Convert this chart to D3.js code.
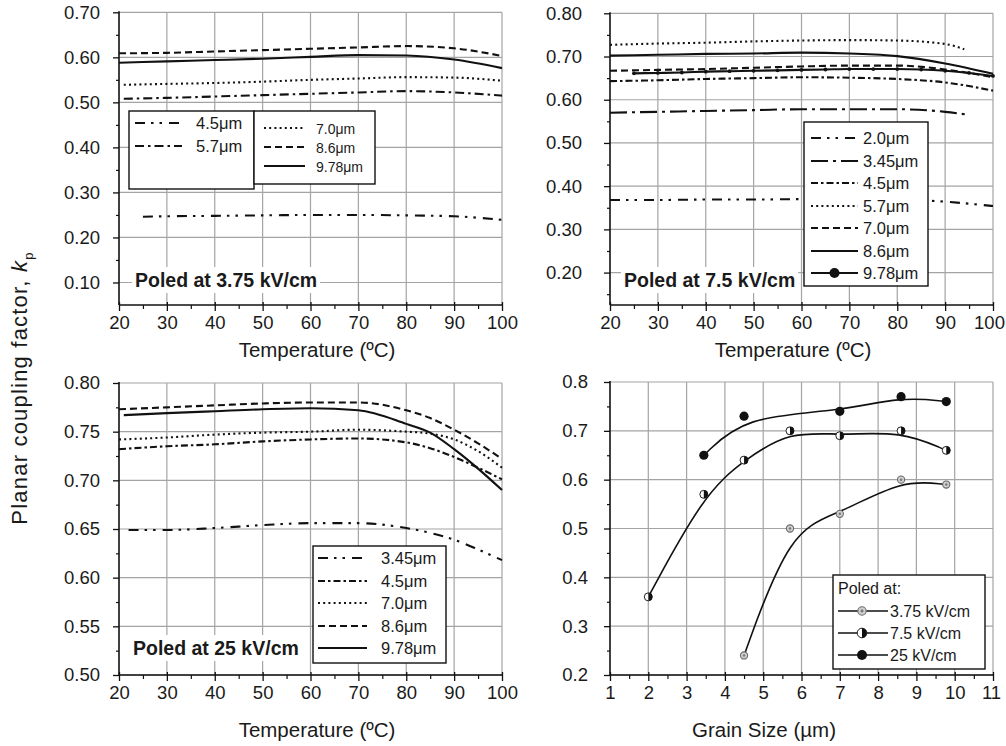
<!DOCTYPE html>
<html><head><meta charset="utf-8">
<script src="https://cdn.jsdelivr.net/npm/d3@7"></script>
<style>body{margin:0;background:#fff} svg text{font-family:"Liberation Sans",Arial,Helvetica,sans-serif;fill:#1a1a1a}</style>
</head><body><svg id="c" width="1006" height="746"></svg>
<script>
// ---------------- DATA ----------------
const tempTicks = [20,30,40,50,60,70,80,90,100];
// Panel A: poled at 3.75 kV/cm
const tA = [20,30,40,50,60,70,80,90,100];
const tA_from21 = [21,30,40,50,60,70,80,90,100];
const tA_from25 = [25,30,40,50,60,70,80,90,100];
const kA_45  = [0.246,0.247,0.248,0.249,0.250,0.250,0.249,0.247,0.239];
const kA_57  = [0.508,0.510,0.513,0.516,0.519,0.522,0.525,0.522,0.515];
const kA_70  = [0.539,0.541,0.543,0.546,0.550,0.553,0.556,0.555,0.548];
const kA_86  = [0.609,0.610,0.613,0.616,0.619,0.622,0.625,0.620,0.603];
const kA_978 = [0.588,0.591,0.594,0.597,0.601,0.605,0.604,0.595,0.576];
// Panel B: poled at 7.5 kV/cm
const tB = [20,30,40,50,60,70,80,90,100];
const tB_to95 = [20,30,40,50,60,70,80,90,95];
const tB_to94 = [20,30,40,50,60,70,80,90,94];
const tB_5 = [25,30,35,40,45,50,55,60,65,70,75,80,85,90,95,100];
const kB_20  = [0.368,0.368,0.369,0.369,0.370,0.370,0.369,0.364,0.354];
const kB_345 = [0.570,0.572,0.574,0.576,0.578,0.578,0.578,0.572,0.565];
const kB_45  = [0.643,0.645,0.648,0.650,0.652,0.651,0.648,0.640,0.621];
const kB_57  = [0.727,0.730,0.732,0.735,0.737,0.738,0.737,0.729,0.717];
const kB_70  = [0.667,0.669,0.671,0.674,0.677,0.679,0.679,0.670,0.652];
const kB_86  = [0.702,0.704,0.706,0.707,0.709,0.707,0.701,0.684,0.660];
const kB_978 = [0.661,0.662,0.663,0.665,0.666,0.667,0.668,0.669,0.670,0.671,0.671,0.671,0.670,0.667,0.662,0.655];
// Panel C: poled at 25 kV/cm
const tC = [20,30,40,50,60,70,80,85,90,95,100];
const tC_from21 = [21,30,40,50,60,70,80,85,90,95,100];
const tC_from22 = [22,30,40,50,60,70,80,85,90,95,100];
const kC_345 = [0.649,0.649,0.651,0.654,0.656,0.656,0.651,0.646,0.639,0.629,0.618];
const kC_45  = [0.732,0.735,0.737,0.740,0.742,0.743,0.739,0.733,0.724,0.713,0.701];
const kC_70  = [0.742,0.744,0.747,0.749,0.750,0.752,0.750,0.748,0.742,0.730,0.713];
const kC_86  = [0.773,0.775,0.777,0.779,0.780,0.780,0.772,0.764,0.752,0.738,0.722];
const kC_978 = [0.767,0.769,0.771,0.773,0.774,0.772,0.758,0.749,0.732,0.712,0.690];
// Panel D: kp vs grain size
const grainTicks = [1,2,3,4,5,6,7,8,9,10,11];
const g375 = [4.5,5.7,7.0,8.6,9.78];
const k375 = [0.24,0.50,0.53,0.60,0.59];
const g75  = [2.0,3.45,4.5,5.7,7.0,8.6,9.78];
const k75  = [0.36,0.57,0.64,0.70,0.69,0.70,0.66];
const g25  = [3.45,4.5,7.0,8.6,9.78];
const k25  = [0.65,0.73,0.74,0.77,0.76];

// ---------------- STYLES ----------------
const DASH = {
  solid: null,
  dot: "2,3.2",
  dash: "7,4",
  dashdot: "9,4,2.5,4",
  shortdashdot: "7,3,2.5,3",
  longdashdot: "17,5,3,5",
  dashdotdot: "10,6,2.5,6,2.5,7"
};
const GRID = "#a4a4a4";
const svg = d3.select("#c");
svg.append("rect").attr("width",1006).attr("height",746).attr("fill","#fff");

function zip(xs, ys){ return xs.map((x,i)=>[x, ys[i]]); }

function panelFrame(o){
  const g = svg.append("g");
  const x = d3.scaleLinear().domain(o.xDomain).range([o.x0,o.x1]);
  const y = d3.scaleLinear().domain(o.yDomain).range([o.yBot,o.yTop]);
  // grid
  g.selectAll(".vg").data(o.xTicks.filter(v=>v!==o.xDomain[0])).join("line")
    .attr("x1",d=>x(d)).attr("x2",d=>x(d)).attr("y1",o.yTop).attr("y2",o.yBot)
    .attr("stroke",GRID).attr("stroke-width",1.2);
  g.selectAll(".hg").data(o.yTicks).join("line")
    .attr("x1",o.x0).attr("x2",o.x1).attr("y1",d=>y(d)).attr("y2",d=>y(d))
    .attr("stroke",GRID).attr("stroke-width",1.2);
  // axes with D3 axis generators
  const yAxis = d3.axisLeft(y).tickValues(o.yTicks).tickFormat(d3.format(o.yFmt)).tickSize(6).tickPadding(o.yPad);
  const ya = g.append("g").attr("transform",`translate(${o.x0},0)`).call(yAxis);
  ya.select(".domain").remove();
  ya.selectAll("text").style("font-size","18.5px").attr("fill","#1a1a1a");
  ya.selectAll("line").attr("stroke","#111").attr("stroke-width",1.3);
  const yMinor = d3.axisLeft(y).tickValues(o.yMinor).tickFormat("").tickSize(3);
  const ym = g.append("g").attr("transform",`translate(${o.x0},0)`).call(yMinor);
  ym.select(".domain").remove();
  ym.selectAll("line").attr("stroke","#111").attr("stroke-width",1.2);

  const xAxis = d3.axisBottom(x).tickValues(o.xTicks).tickFormat(d3.format("d")).tickSizeInner(6).tickSizeOuter(0).tickPadding(o.xPad);
  const xa = g.append("g").attr("transform",`translate(0,${o.yBot})`).call(xAxis);
  xa.select(".domain").remove();
  xa.selectAll("text").style("font-size","18.5px").attr("fill","#1a1a1a");
  if(o.lastLabelShift) xa.selectAll("text").filter((d,i,n)=>i===n.length-1).attr("dx",o.lastLabelShift);
  xa.selectAll("line").attr("y1",-3).attr("stroke","#111").attr("stroke-width",1.3);
  const xMinor = d3.axisBottom(x).tickValues(o.xMinor).tickFormat("").tickSize(4);
  const xm = g.append("g").attr("transform",`translate(0,${o.yBot})`).call(xMinor);
  xm.select(".domain").remove();
  xm.selectAll("line").attr("stroke","#111").attr("stroke-width",1.2);

  g.append("line").attr("x1",o.x0).attr("x2",o.x0).attr("y1",o.yTop-1).attr("y2",o.yBot)
    .attr("stroke","#111").attr("stroke-width",1.6);
  g.append("line").attr("x1",o.x0).attr("x2",o.x1+1).attr("y1",o.yBot).attr("y2",o.yBot)
    .attr("stroke","#111").attr("stroke-width",1.6);
  // x title
  g.append("text").attr("x",o.titleX).attr("y",o.titleY).attr("text-anchor","middle")
    .style("font-size","20.5px").text(o.xTitle);
  return {g,x,y};
}

function drawSeries(p, series){
  const line = d3.line().x(d=>p.x(d[0])).y(d=>p.y(d[1])).curve(d3.curveMonotoneX);
  series.forEach(s=>{
    p.g.append("path").datum(zip(s.t,s.k)).attr("d",line)
      .attr("fill","none").attr("stroke","#111").attr("stroke-width",2.1)
      .attr("stroke-dasharray",DASH[s.style]);
    if(s.marker){
      p.g.selectAll(null).data(zip(s.t,s.k)).join("circle")
        .attr("cx",d=>p.x(d[0])).attr("cy",d=>p.y(d[1])).attr("r",1.9).attr("fill","#111");
    }
  });
}

function poled(p, txt, x, y){
  const t = p.g.append("text").attr("x",x).attr("y",y).style("font-size","19.5px")
    .style("font-weight","bold").text(txt);
  const bb = t.node().getBBox();
  p.g.insert("rect", function(){return t.node();})
    .attr("x",bb.x-3).attr("y",bb.y-2).attr("width",bb.width+6).attr("height",bb.height+4).attr("fill","#fff");
}

function legendBox(g, box, entries, sx1, sx2, tx, fs){
  g.append("rect").attr("x",box[0]).attr("y",box[1]).attr("width",box[2]).attr("height",box[3])
    .attr("fill","#fff").attr("stroke","#111").attr("stroke-width",1.4);
  entries.forEach(e=>{
    g.append("line").attr("x1",sx1).attr("x2",sx2).attr("y1",e.y).attr("y2",e.y)
      .attr("stroke","#111").attr("stroke-width",2.1).attr("stroke-dasharray",DASH[e.style]);
    if(e.marker) g.append("circle").attr("cx",(sx1+sx2)/2).attr("cy",e.y).attr("r",5).attr("fill","#111");
    g.append("text").attr("x",tx).attr("y",e.y+6).style("font-size",fs+"px").text(e.name);
  });
}

// ---------------- PANEL A ----------------
const pA = panelFrame({x0:119,x1:502,yTop:12.3,yBot:305,xDomain:[20,100],yDomain:[0.05,0.70],
  xTicks:tempTicks,xMinor:[25,35,45,55,65,75,85,95],yTicks:[0.10,0.20,0.30,0.40,0.50,0.60,0.70],
  yMinor:[0.15,0.25,0.35,0.45,0.55,0.65],yFmt:".2f",yPad:13,xPad:5,
  xTitle:"Temperature (ºC)",titleX:317,titleY:357});
drawSeries(pA,[
  {t:tA_from25,k:kA_45,style:"dashdotdot"},
  {t:tA_from21,k:kA_57,style:"dashdot"},
  {t:tA_from21,k:kA_70,style:"dot"},
  {t:tA,k:kA_86,style:"dash"},
  {t:tA,k:kA_978,style:"solid"}]);
poled(pA,"Poled at 3.75 kV/cm",135,287);
legendBox(pA.g,[129,111,125,78],[{name:"4.5μm",style:"dashdotdot",y:123},{name:"5.7μm",style:"dashdot",y:146}],135,182,196,16.5);
legendBox(pA.g,[254,111,121,73],[{name:"7.0μm",style:"dot",y:128},{name:"8.6μm",style:"dash",y:147},{name:"9.78μm",style:"solid",y:166}],264,305,316,14);

// ---------------- PANEL B ----------------
const pB = panelFrame({x0:610,x1:993,yTop:13.3,yBot:305,xDomain:[20,100],yDomain:[0.125,0.80],
  xTicks:tempTicks,xMinor:[25,35,45,55,65,75,85,95],yTicks:[0.20,0.30,0.40,0.50,0.60,0.70,0.80],
  yMinor:[0.15,0.25,0.35,0.45,0.55,0.65,0.75],yFmt:".2f",yPad:22,xPad:5,lastLabelShift:-4,
  xTitle:"Temperature (ºC)",titleX:793,titleY:357});
drawSeries(pB,[
  {t:tB,k:kB_20,style:"dashdotdot"},
  {t:tB_to95,k:kB_345,style:"longdashdot"},
  {t:tB,k:kB_45,style:"shortdashdot"},
  {t:tB_to94,k:kB_57,style:"dot"},
  {t:tB,k:kB_70,style:"dash"},
  {t:tB,k:kB_86,style:"solid"},
  {t:tB_5,k:kB_978,style:"solid",marker:true}]);
poled(pB,"Poled at 7.5 kV/cm",624,287);
legendBox(pB.g,[804,122,124,164],[
  {name:"2.0μm",style:"dashdotdot",y:138},
  {name:"3.45μm",style:"longdashdot",y:161},
  {name:"4.5μm",style:"shortdashdot",y:183},
  {name:"5.7μm",style:"dot",y:206},
  {name:"7.0μm",style:"dash",y:228},
  {name:"8.6μm",style:"solid",y:251},
  {name:"9.78μm",style:"solid",y:273,marker:true}],811,858,863,16.5);

// ---------------- PANEL C ----------------
const pC = panelFrame({x0:119,x1:502,yTop:383,yBot:675,xDomain:[20,100],yDomain:[0.50,0.80],
  xTicks:tempTicks,xMinor:[25,35,45,55,65,75,85,95],yTicks:[0.50,0.55,0.60,0.65,0.70,0.75,0.80],
  yMinor:[0.525,0.575,0.625,0.675,0.725,0.775],yFmt:".2f",yPad:13,xPad:5,
  xTitle:"Temperature (ºC)",titleX:317,titleY:737});
drawSeries(pC,[
  {t:tC_from22,k:kC_345,style:"dashdotdot"},
  {t:tC,k:kC_45,style:"shortdashdot"},
  {t:tC,k:kC_70,style:"dot"},
  {t:tC,k:kC_86,style:"dash"},
  {t:tC_from21,k:kC_978,style:"solid"}]);
poled(pC,"Poled at 25 kV/cm",133,655);
legendBox(pC.g,[313,546,133,117],[
  {name:"3.45μm",style:"dashdotdot",y:558},
  {name:"4.5μm",style:"shortdashdot",y:581},
  {name:"7.0μm",style:"dot",y:603},
  {name:"8.6μm",style:"dash",y:626},
  {name:"9.78μm",style:"solid",y:648}],318,367,381,16.5);

// ---------------- PANEL D ----------------
const pD = panelFrame({x0:610,x1:993,yTop:382,yBot:675,xDomain:[1,11],yDomain:[0.2,0.8],
  xTicks:grainTicks,xMinor:[1.5,2.5,3.5,4.5,5.5,6.5,7.5,8.5,9.5,10.5],yTicks:[0.2,0.3,0.4,0.5,0.6,0.7,0.8],
  yMinor:[0.25,0.35,0.45,0.55,0.65,0.75],yFmt:".1f",yPad:16,xPad:5,lastLabelShift:-2,
  xTitle:"Grain Size (µm)",titleX:764,titleY:737});

const fitLine = d3.line().x(d=>pD.x(d[0])).y(d=>pD.y(d[1])).curve(d3.curveBasis);
[[g375,k375],[g75,k75],[g25,k25]].forEach(([gs,ks])=>{
  pD.g.append("path").datum(zip(gs,ks)).attr("d",fitLine).attr("fill","none")
    .attr("stroke","#111").attr("stroke-width",1.6);
});
function markerGrey(g,cx,cy,r){
  g.append("circle").attr("cx",cx).attr("cy",cy).attr("r",r).attr("fill","#cfcfcf").attr("stroke","#6a6a6a").attr("stroke-width",1.1);
  g.append("circle").attr("cx",cx).attr("cy",cy).attr("r",r*0.35).attr("fill","#777");
}
function markerHalf(g,cx,cy,r){
  g.append("circle").attr("cx",cx).attr("cy",cy).attr("r",r).attr("fill","#fff").attr("stroke","#222").attr("stroke-width",1);
  g.append("path").attr("d",`M${cx},${cy-r} A${r},${r} 0 0 1 ${cx},${cy+r} Z`).attr("fill","#111");
}
function markerFull(g,cx,cy,r){
  g.append("circle").attr("cx",cx).attr("cy",cy).attr("r",r).attr("fill","#111");
}
zip(g375,k375).forEach(d=>markerGrey(pD.g,pD.x(d[0]),pD.y(d[1]),3.6));
zip(g75,k75).forEach(d=>markerHalf(pD.g,pD.x(d[0]),pD.y(d[1]),4));
zip(g25,k25).forEach(d=>markerFull(pD.g,pD.x(d[0]),pD.y(d[1]),4.6));

// legend D
pD.g.append("rect").attr("x",833).attr("y",575).attr("width",152).attr("height",94)
  .attr("fill","#fff").attr("stroke","#111").attr("stroke-width",1.4);
pD.g.append("text").attr("x",838).attr("y",594).style("font-size","16px").text("Poled at:");
const legD = [
  {name:"3.75 kV/cm",y:611,m:markerGrey,r:4.2},
  {name:"7.5 kV/cm",y:633,m:markerHalf,r:4.8},
  {name:"25 kV/cm",y:655,m:markerFull,r:5}];
legD.forEach(e=>{
  pD.g.append("line").attr("x1",838).attr("x2",888).attr("y1",e.y).attr("y2",e.y).attr("stroke","#111").attr("stroke-width",1.6);
  e.m(pD.g,862,e.y,e.r);
  pD.g.append("text").attr("x",890).attr("y",e.y+6).style("font-size","16px").text(e.name);
});

// ---------------- SHARED Y TITLE ----------------
const yt = svg.append("text").attr("transform","translate(27,388) rotate(-90)")
  .attr("text-anchor","middle").style("font-size","22px").style("letter-spacing","1.2px");
yt.append("tspan").text("Planar coupling factor, ");
yt.append("tspan").style("font-style","italic").text("k");
yt.append("tspan").attr("dy",6).style("font-size","13px").text("p");
</script>
</body></html>
